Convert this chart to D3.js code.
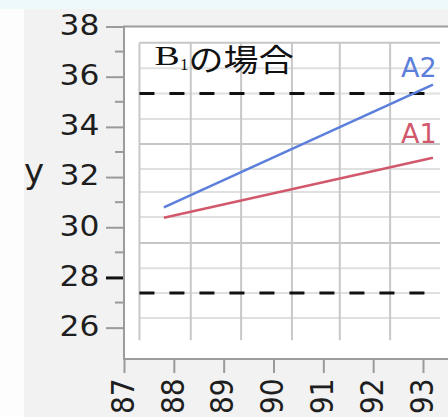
<!DOCTYPE html>
<html>
<head>
<meta charset="utf-8">
<script src="https://cdn.jsdelivr.net/npm/d3@7"></script>
<style>
  body { margin: 0; background: #ffffff; }
  svg { display: block; }
</style>
</head>
<body>
<svg id="chart" width="448" height="417"></svg>
<script>
// ---- data ----
const xTicks = [87, 88, 89, 90, 91, 92, 93];
const yMajorTicks = [26, 28, 30, 32, 34, 36, 38];
const yMinorTicks = [27, 29, 31, 33, 35, 37];
const highlightTick = 28;

const seriesNames = ["A1", "A2"];
const lineX = [87.8, 93.2];
const a1Values = [30.38, 32.77];
const a2Values = [30.79, 35.68];

// horizontal dashed limit lines
const limitValues = [35.33, 27.38];
const limitX = [87.31, 93.1];

// inner reference grid
const gridX = [87.31, 88.34, 89.35, 90.37, 91.33, 92.34];
const gridY = [37.35, 36.34, 35.33, 34.31, 33.32, 32.32, 31.40, 30.41, 29.37, 28.37, 27.38, 26.38];
const gridYMajor = [37.35, 33.32, 29.37];
const gridExtentX = [87.31, 93.34];
const gridExtentY = [25.5, 37.35];

const yTitle = "y";
const titleMain = "B";
const titleSub = "1";
const titleRest = "の場合";

// ---- layout ----
const W = 448, H = 417;
const svg = d3.select("#chart");

const x = d3.scaleLinear().domain([87, 93.6]).range([124, 452.9]);
const y = d3.scaleLinear().domain([24.75, 38]).range([359, 26.5]);

const stretch = 1.12;
const tickFont = "'DejaVu Sans', Verdana, sans-serif";
const serifFont = "'Liberation Serif', 'Times New Roman', serif";

// backgrounds
svg.append("rect").attr("x", 0).attr("y", 0).attr("width", W).attr("height", H).attr("fill", "#fdfdfd");
svg.append("rect").attr("x", 24).attr("y", 9).attr("width", W - 24).attr("height", H - 9).attr("fill", "#f2f2f2");
svg.append("rect").attr("x", 0).attr("y", 0).attr("width", W).attr("height", 9).attr("fill", "#eef9fb");

// plot frame
const fx0 = x(87), fy0 = y(38), fy1 = y(24.75);
svg.append("rect")
  .attr("x", fx0).attr("y", fy0)
  .attr("width", x.range()[1] + 10 - fx0).attr("height", fy1 - fy0)
  .attr("fill", "#ffffff").attr("stroke", "#9c9c9c").attr("stroke-width", 2);

// inner grid
const grid = svg.append("g");
grid.selectAll("line.gy").data(gridY).join("line")
  .attr("class", "gy")
  .attr("x1", x(gridExtentX[0])).attr("x2", x(gridExtentX[1]))
  .attr("y1", d => y(d)).attr("y2", d => y(d))
  .attr("stroke", d => gridYMajor.includes(d) ? "#c6c6c6" : "#e0e0e0")
  .attr("stroke-width", 2);
grid.selectAll("line.gx").data(gridX).join("line")
  .attr("class", "gx")
  .attr("x1", d => x(d)).attr("x2", d => x(d))
  .attr("y1", y(gridExtentY[1])).attr("y2", y(gridExtentY[0]))
  .attr("stroke", "#c8c8c8").attr("stroke-width", 2);

// dashed limit lines
svg.selectAll("line.limit").data(limitValues).join("line")
  .attr("class", "limit")
  .attr("x1", x(limitX[0])).attr("x2", x(limitX[1]))
  .attr("y1", d => y(d)).attr("y2", d => y(d))
  .attr("stroke", "#111111").attr("stroke-width", 3)
  .attr("stroke-dasharray", "15,15");

// series lines
const series = [
  { name: seriesNames[0], values: a1Values, color: "#d2596c", labelDy: -14.7 },
  { name: seriesNames[1], values: a2Values, color: "#5b7fdb", labelDy: -8 }
];
const line = d3.line().x(d => x(d[0])).y(d => y(d[1]));
svg.selectAll("path.series").data(series).join("path")
  .attr("class", "series")
  .attr("d", s => line(lineX.map((v, i) => [v, s.values[i]])))
  .attr("fill", "none").attr("stroke", s => s.color).attr("stroke-width", 2.5);

svg.selectAll("text.slabel").data(series).join("text")
  .attr("class", "slabel")
  .attr("x", s => x(lineX[1]) - 32)
  .attr("y", s => y(s.values[1]) + s.labelDy)
  .attr("font-family", tickFont).attr("font-size", 27)
  .attr("fill", s => s.color)
  .text(s => s.name);

// title: B with subscript 1, then Japanese text
const title = svg.append("g").attr("fill", "#111111");
title.append("text")
  .attr("transform", "translate(154.5,65) scale(1.4,1)")
  .attr("font-family", serifFont).attr("font-size", 27)
  .text(titleMain);
title.append("text")
  .attr("transform", "translate(180,70)")
  .attr("font-family", serifFont).attr("font-size", 17)
  .text(titleSub);
title.append("text")
  .attr("transform", "translate(188.6,71) scale(1.13,1)")
  .attr("font-family", "'Noto Sans CJK JP', sans-serif").attr("font-size", 31)
  .text(titleRest);

// y axis
const yAxis = svg.append("g").attr("transform", `translate(${fx0 - 1},0)`)
  .call(d3.axisLeft(y).tickValues(yMajorTicks).tickSize(17).tickFormat(d3.format("d")));
yAxis.select(".domain").remove();
yAxis.selectAll(".tick line")
  .attr("stroke", d => d === highlightTick ? "#111111" : "#9a9a9a")
  .attr("stroke-width", d => d === highlightTick ? 3 : 2);
yAxis.selectAll(".tick text")
  .attr("x", null).attr("dy", null)
  .attr("transform", `translate(-23.5,7.8) scale(${stretch},1)`)
  .attr("font-family", tickFont).attr("font-size", 28).attr("fill", "#1e1e1e");

svg.append("g").selectAll("line").data(yMinorTicks).join("line")
  .attr("x1", fx0 - 9).attr("x2", fx0 - 1)
  .attr("y1", d => y(d)).attr("y2", d => y(d))
  .attr("stroke", "#9a9a9a").attr("stroke-width", 2);

svg.append("text")
  .attr("x", 24).attr("y", 183)
  .attr("font-family", tickFont).attr("font-size", 34).attr("fill", "#1e1e1e")
  .text(yTitle);

// x axis
const xAxis = svg.append("g").attr("transform", `translate(0,${fy1})`)
  .call(d3.axisBottom(x).tickValues(xTicks).tickSize(14).tickFormat(d3.format("d")));
xAxis.select(".domain").remove();
xAxis.selectAll(".tick line").attr("stroke", "#9a9a9a").attr("stroke-width", 2);
xAxis.selectAll(".tick text")
  .attr("y", null).attr("dy", null)
  .attr("text-anchor", "end")
  .attr("transform", `translate(9.2,19.4) scale(${stretch},1) rotate(-90)`)
  .attr("font-family", tickFont).attr("font-size", 28).attr("fill", "#1e1e1e");
</script>
</body>
</html>
